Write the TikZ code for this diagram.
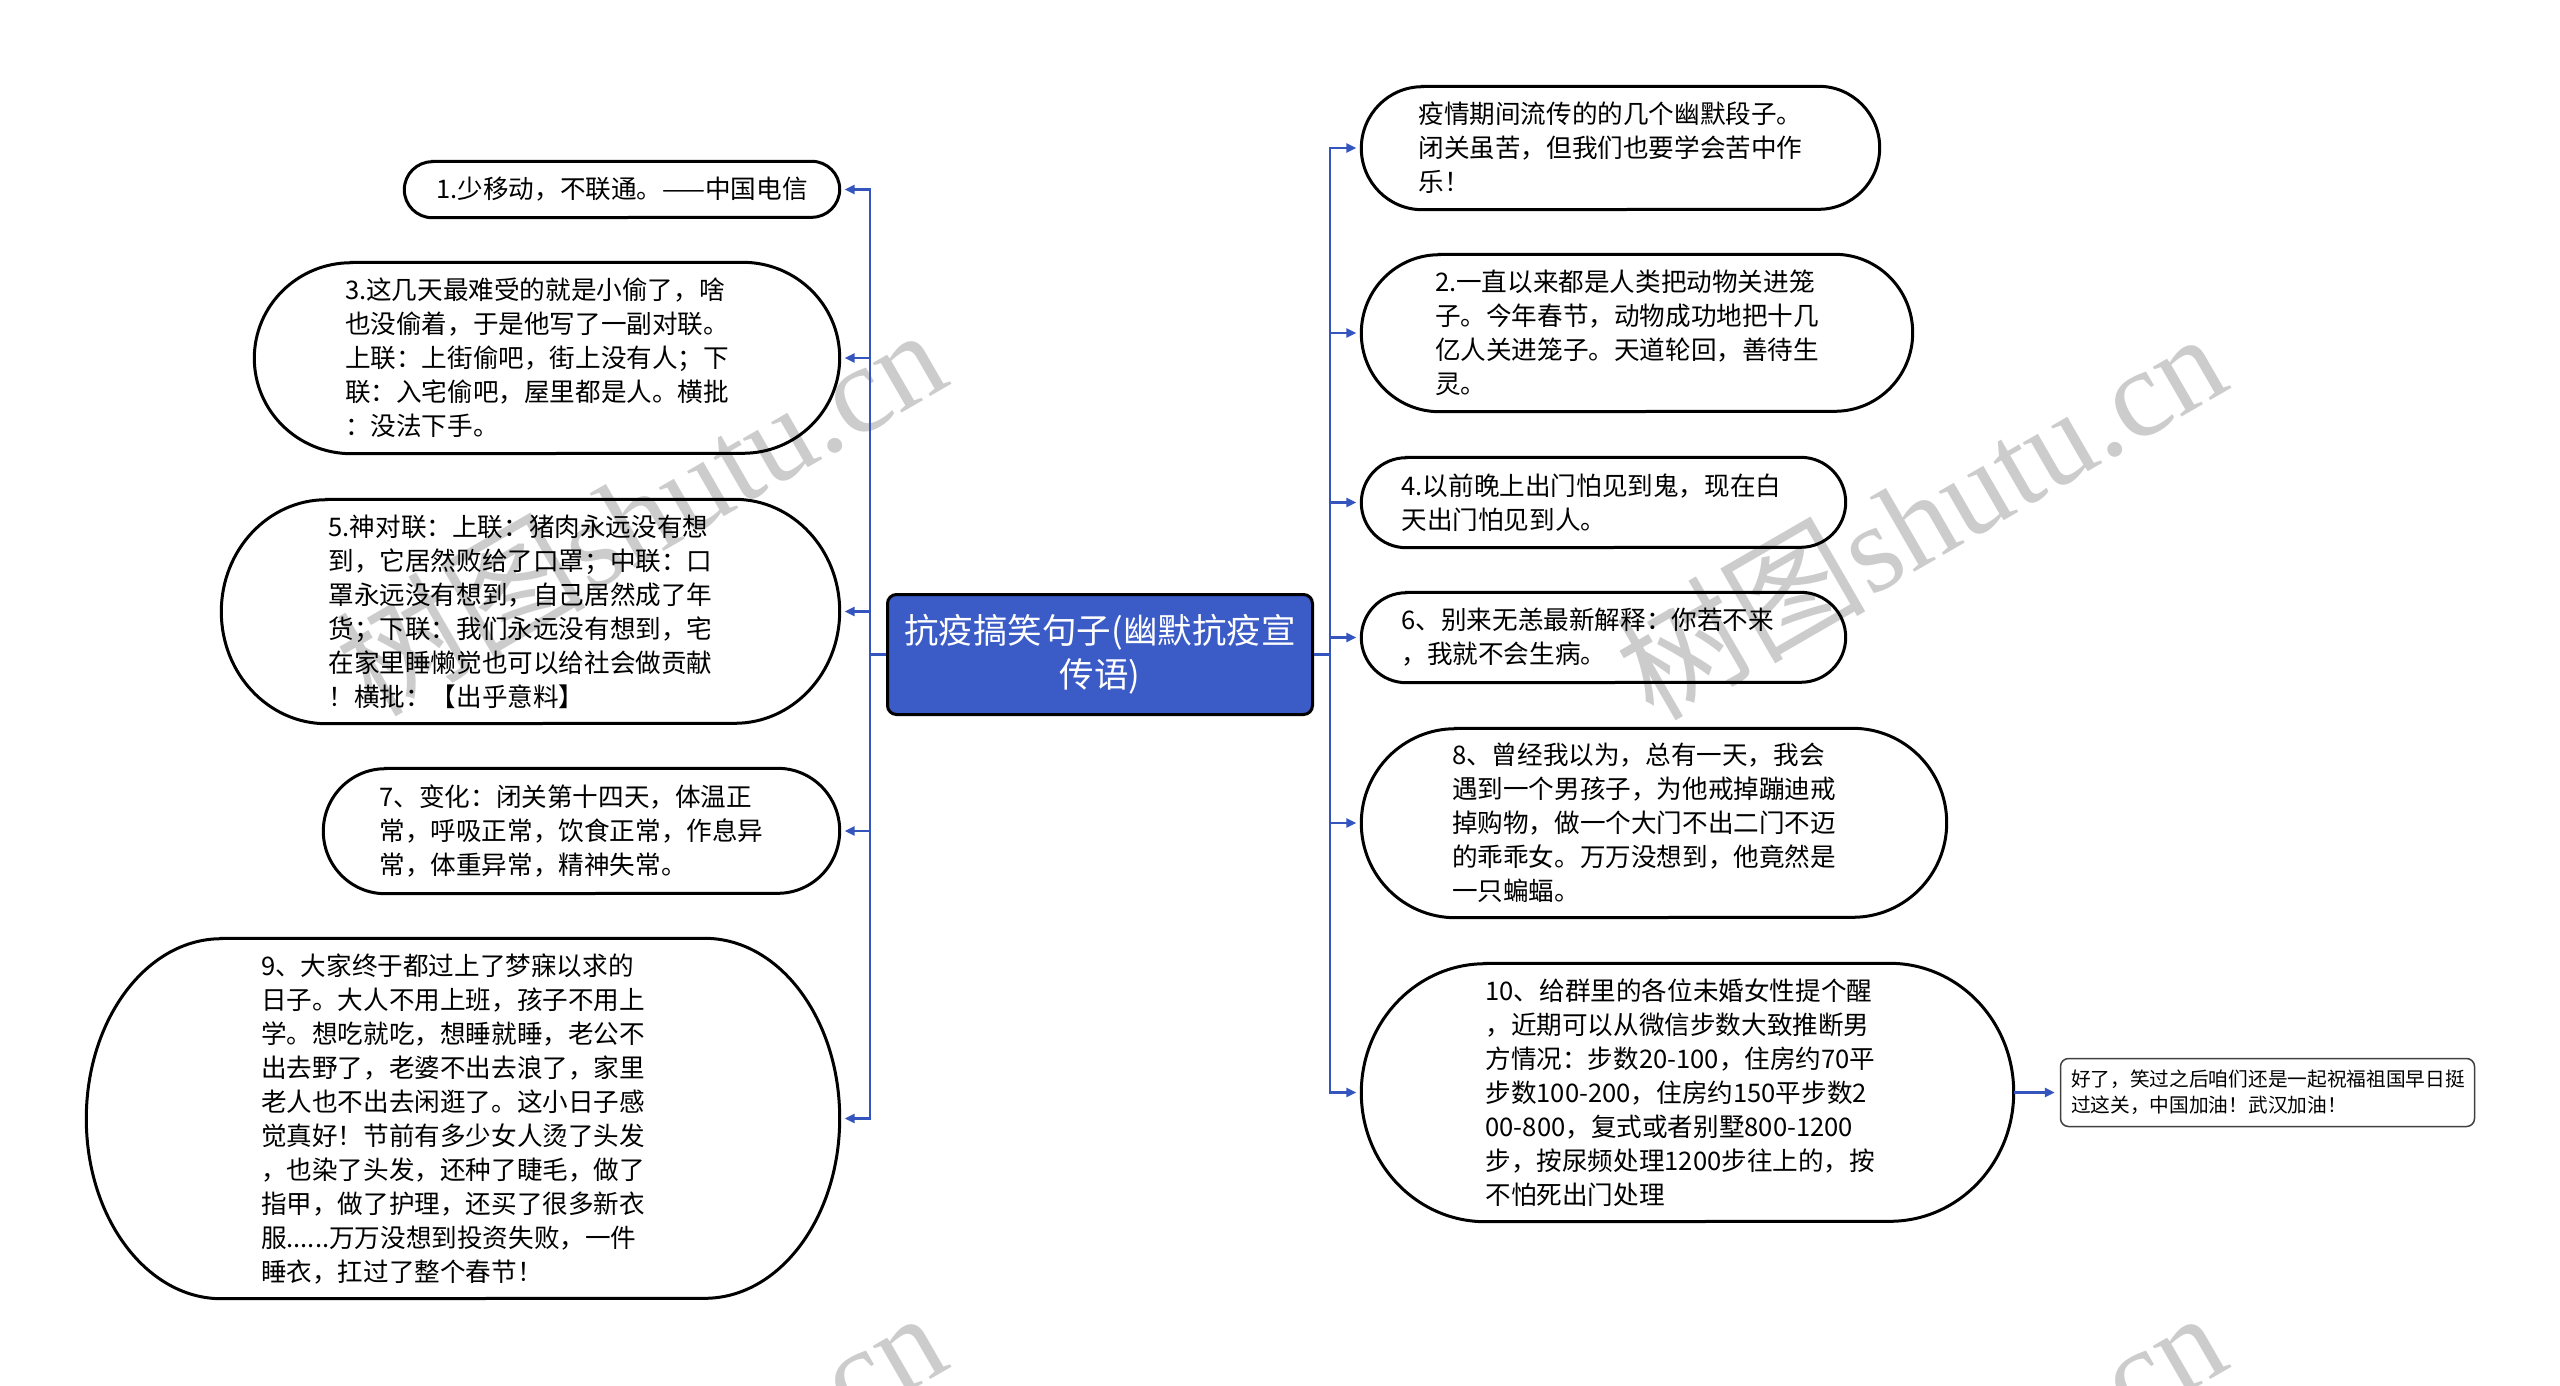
\documentclass[tikz,border=0pt]{standalone}
\usepackage{fontspec}
\setmainfont{Noto Sans CJK SC}
\newfontfamily\wmserif{Liberation Serif}
\usetikzlibrary{arrows.meta,calc}
\definecolor{linkblue}{RGB}{52,84,190}
\definecolor{cblue}{RGB}{59,91,199}
\newcommand\stad[3]{% name, x radius, half height
  \draw[nodeline] ([xshift=#2pt]#1.north west) -- ([xshift=-#2pt]#1.north east)
    arc[start angle=90,end angle=-90,x radius=#2pt,y radius=#3pt]
    -- ([xshift=#2pt]#1.south west)
    arc[start angle=270,end angle=90,x radius=#2pt,y radius=#3pt] -- cycle;}
\begin{document}
\begin{tikzpicture}[x=1pt,y=-1pt,
  leaf/.style={inner sep=0pt, text width=404pt, align=left, font=\fontsize{25.6}{34}\selectfont, text=black},
  leafone/.style={inner sep=0pt, align=left, font=\fontsize{25.6}{34}\selectfont, text=black},
  nodeline/.style={draw=black, line width=3pt},
  conn/.style={draw=linkblue, line width=2.5pt, -{Triangle[length=10pt,width=9pt]}, shorten >=5pt},
  wm/.style={rotate=30, text=black!20, font=\fontsize{125}{125}\selectfont, inner sep=0pt}
]
\fill[white] (0,0) rectangle (2560,1385);
\useasboundingbox (0,0) rectangle (2560,1385);

% watermark
\begin{scope}
\clip (0,0) rectangle (2560,1385);
\foreach \a/\b in {640/510,1920/514,640/1493,1920/1493}
  \node[wm] at (\a,\b) {树图\wmserif shutu.cn};
\end{scope}

% central node
\node[draw=black, line width=3pt, fill=cblue, rounded corners=9pt,
      minimum width=425pt, minimum height=120pt, text=white, align=center,
      font=\fontsize{34.5}{44}\selectfont, inner sep=0pt] (C) at (1100,654.5)
  {抗疫搞笑句子(幽默抗疫宣\\传语)};

% left nodes
\node[leafone, minimum width=435pt, minimum height=56pt] (L1) at (622,189.5)
  {1.少移动，不联通。——中国电信};
\node[leaf, minimum width=585pt, minimum height=191pt] (L3) at (547,358)
  {3.这几天最难受的就是小偷了，啥\\也没偷着，于是他写了一副对联。\\上联：上街偷吧，街上没有人；下\\联：入宅偷吧，屋里都是人。横批\\：没法下手。};
\node[leaf, minimum width=618pt, minimum height=224pt] (L5) at (530.5,611.5)
  {5.神对联：上联：猪肉永远没有想\\到，它居然败给了口罩；中联：口\\罩永远没有想到，自己居然成了年\\货；下联：我们永远没有想到，宅\\在家里睡懒觉也可以给社会做贡献\\！横批：【出乎意料】};
\node[leaf, minimum width=516pt, minimum height=125pt] (L7) at (581.5,831)
  {7、变化：闭关第十四天，体温正\\常，呼吸正常，饮食正常，作息异\\常，体重异常，精神失常。};
\node[leaf, minimum width=753pt, minimum height=360pt] (L9) at (463,1118.5)
  {9、大家终于都过上了梦寐以求的\\日子。大人不用上班，孩子不用上\\学。想吃就吃，想睡就睡，老公不\\出去野了，老婆不出去浪了，家里\\老人也不出去闲逛了。这小日子感\\觉真好！节前有多少女人烫了头发\\，也染了头发，还种了睫毛，做了\\指甲，做了护理，还买了很多新衣\\服......万万没想到投资失败，一件\\睡衣，扛过了整个春节！};

% right nodes
\node[leaf, minimum width=518pt, minimum height=123pt] (R0) at (1620.5,148)
  {疫情期间流传的的几个幽默段子。\\闭关虽苦，但我们也要学会苦中作\\乐！};
\node[leaf, minimum width=551pt, minimum height=157pt] (R2) at (1637,333)
  {2.一直以来都是人类把动物关进笼\\子。今年春节，动物成功地把十几\\亿人关进笼子。天道轮回，善待生\\灵。};
\node[leaf, minimum width=484pt, minimum height=90pt] (R4) at (1603.5,502.5)
  {4.以前晚上出门怕见到鬼，现在白\\天出门怕见到人。};
\node[leaf, minimum width=484pt, minimum height=90pt] (R6) at (1603.5,637.5)
  {6、别来无恙最新解释：你若不来\\，我就不会生病。};
\node[leaf, minimum width=585pt, minimum height=189pt] (R8) at (1654,823)
  {8、曾经我以为，总有一天，我会\\遇到一个男孩子，为他戒掉蹦迪戒\\掉购物，做一个大门不出二门不迈\\的乖乖女。万万没想到，他竟然是\\一只蝙蝠。};
\node[leaf, minimum width=652pt, minimum height=258pt] (R10) at (1687.5,1092.5)
  {10、给群里的各位未婚女性提个醒\\，近期可以从微信步数大致推断男\\方情况：步数20-100，住房约70平\\步数100-200，住房约150平步数2\\00-800，复式或者别墅800-1200\\步，按尿频处理1200步往上的，按\\不怕死出门处理};

% final node
\node[draw=black!75, line width=1.5pt, rounded corners=8pt, minimum width=414pt,
      minimum height=68pt, inner sep=0pt, text width=393pt, align=left,
      font=\fontsize{19.7}{26}\selectfont] (F) at (2267.5,1092.5)
  {好了，笑过之后咱们还是一起祝福祖国早日挺\\过这关，中国加油！武汉加油！};

% outlines
\stad{L1}{28}{28}
\stad{L3}{97}{95.5}
\stad{L5}{105}{112}
\stad{L7}{62}{62.5}
\stad{L9}{135}{180}
\stad{R0}{61}{61.5}
\stad{R2}{78}{78.5}
\stad{R4}{45}{45}
\stad{R6}{45}{45}
\stad{R8}{94}{94.5}
\stad{R10}{124}{129}

% connectors
\coordinate (tl) at (870,0);
\coordinate (tr) at (1330,0);
\foreach \n in {L1,L3,L5,L7,L9}
  \draw[conn] (C.west) -- (C.west -| tl) |- (\n.east);
\foreach \n in {R0,R2,R4,R6,R8,R10}
  \draw[conn] (C.east) -- (C.east -| tr) |- (\n.west);
\draw[conn] (R10.east) -- (F.west);
\end{tikzpicture}
\end{document}
